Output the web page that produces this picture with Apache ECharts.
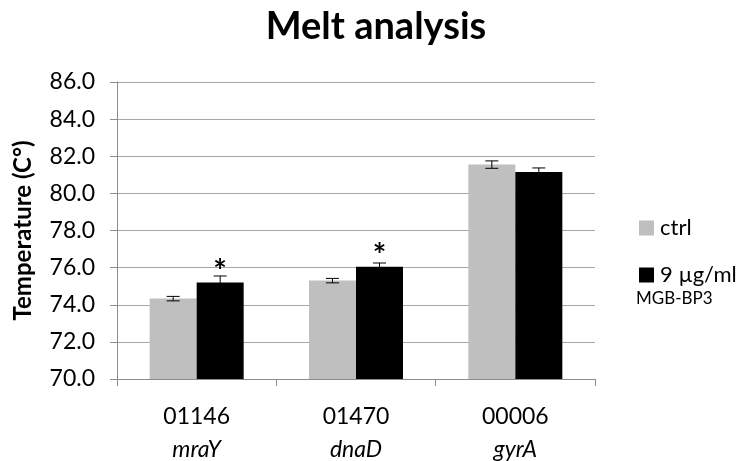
<!DOCTYPE html>
<html>
<head>
<meta charset="utf-8">
<script src="https://cdn.jsdelivr.net/npm/echarts@6/dist/echarts.min.js"></script>
<style>html,body{margin:0;padding:0;background:#fff;}#c{width:737px;height:461px;}</style>
</head>
<body>
<div id="c"></div>
<script>
var codes = ['01146', '01470', '00006'];
var genes = ['mraY', 'dnaD', 'gyrA'];
var ctrlValues = [74.33, 75.3, 81.55];
var ctrlErrors = [0.12, 0.12, 0.2];
var treatedValues = [75.2, 76.05, 81.15];
var treatedErrors = [0.35, 0.2, 0.22];
var significant = [true, true, false];
var yTicks = [70, 72, 74, 76, 78, 80, 82, 84, 86];

var FONT = 'Lato';
var GAP = 0.41;
var chart = echarts.init(document.getElementById('c'));

function errData(vals, errs, sign) {
  return vals.map(function (v, i) { return [i, v, errs[i], sign]; });
}
function renderErr(params, api) {
  var i = api.value(0), v = api.value(1), e = api.value(2), s = api.value(3);
  var band = api.size([1, 0])[0];
  var off = s * band * (1 - GAP) / 4;
  var top = api.coord([i, v + e]);
  var bot = api.coord([i, v - e]);
  var x = top[0] + off;
  var cap = 6.5;
  var style = { stroke: '#000', lineWidth: 1 };
  return {
    type: 'group',
    children: [
      { type: 'line', shape: { x1: x, y1: top[1], x2: x, y2: bot[1] }, style: style },
      { type: 'line', shape: { x1: x - cap, y1: top[1], x2: x + cap, y2: top[1] }, style: style },
      { type: 'line', shape: { x1: x - cap, y1: bot[1], x2: x + cap, y2: bot[1] }, style: style }
    ]
  };
}

chart.setOption({
  animation: false,
  textStyle: { fontFamily: FONT },
  title: {
    text: 'Melt analysis',
    left: 371, top: 3, textAlign: 'center',
    textStyle: { fontFamily: FONT, fontWeight: 'bold', fontSize: 38, color: '#000' }
  },
  grid: { left: 117, right: 142, top: 82, bottom: 78 },
  legend: {
    orient: 'vertical',
    left: 634, top: 212,
    itemWidth: 15, itemHeight: 15, itemGap: 25,
    icon: 'rect',
    data: ['ctrl', '9 µg/ml'],
    textStyle: { fontFamily: FONT, fontSize: 22, color: '#000', padding: [0, 0, 0, 1] }
  },
  graphic: [{
    type: 'text', left: 636, top: 290,
    style: { text: 'MGB-BP3', font: '17px ' + FONT, fill: '#000' }
  }],
  xAxis: {
    type: 'category',
    data: codes,
    axisLine: { lineStyle: { color: '#8c8c8c', width: 1 } },
    axisTick: { show: true, length: 7, lineStyle: { color: '#8c8c8c' } },
    axisLabel: {
      margin: 21,
      formatter: function (v, i) { return '{a|' + v + '}\n{b|' + genes[i] + '}'; },
      rich: {
        a: { fontFamily: FONT, fontSize: 23, color: '#000', lineHeight: 33 },
        b: { fontFamily: FONT, fontSize: 23, fontStyle: 'italic', color: '#000', lineHeight: 33 }
      }
    }
  },
  yAxis: {
    type: 'value',
    min: yTicks[0], max: yTicks[yTicks.length - 1], interval: 2,
    name: 'Temperature (C°)',
    nameLocation: 'middle', nameGap: 82,
    nameTextStyle: { fontFamily: FONT, fontWeight: 'bold', fontSize: 24, color: '#000' },
    axisLine: { show: true, lineStyle: { color: '#8c8c8c', width: 1 } },
    axisTick: { show: true, length: 7, lineStyle: { color: '#8c8c8c' } },
    axisLabel: {
      margin: 22,
      formatter: function (v) { return v.toFixed(1); },
      fontFamily: FONT, fontSize: 23, color: '#000'
    },
    splitLine: { lineStyle: { color: '#a6a6a6', width: 1 } }
  },
  series: [
    {
      name: 'ctrl', type: 'bar', data: ctrlValues,
      itemStyle: { color: '#bfbfbf' },
      barGap: '0%', barCategoryGap: (GAP * 100) + '%'
    },
    {
      name: '9 µg/ml', type: 'bar', data: treatedValues,
      itemStyle: { color: '#000000' },
      barGap: '0%', barCategoryGap: (GAP * 100) + '%',
      label: {
        show: true, position: 'top', distance: -6,
        formatter: function (p) { return significant[p.dataIndex] ? '*' : ''; },
        fontFamily: FONT, fontSize: 32, fontWeight: 'bold', color: '#000'
      }
    },
    {
      type: 'custom', renderItem: renderErr, data: errData(ctrlValues, ctrlErrors, -1),
      z: 10, silent: true
    },
    {
      type: 'custom', renderItem: renderErr, data: errData(treatedValues, treatedErrors, 1),
      z: 10, silent: true
    }
  ]
});
</script>
</body>
</html>
